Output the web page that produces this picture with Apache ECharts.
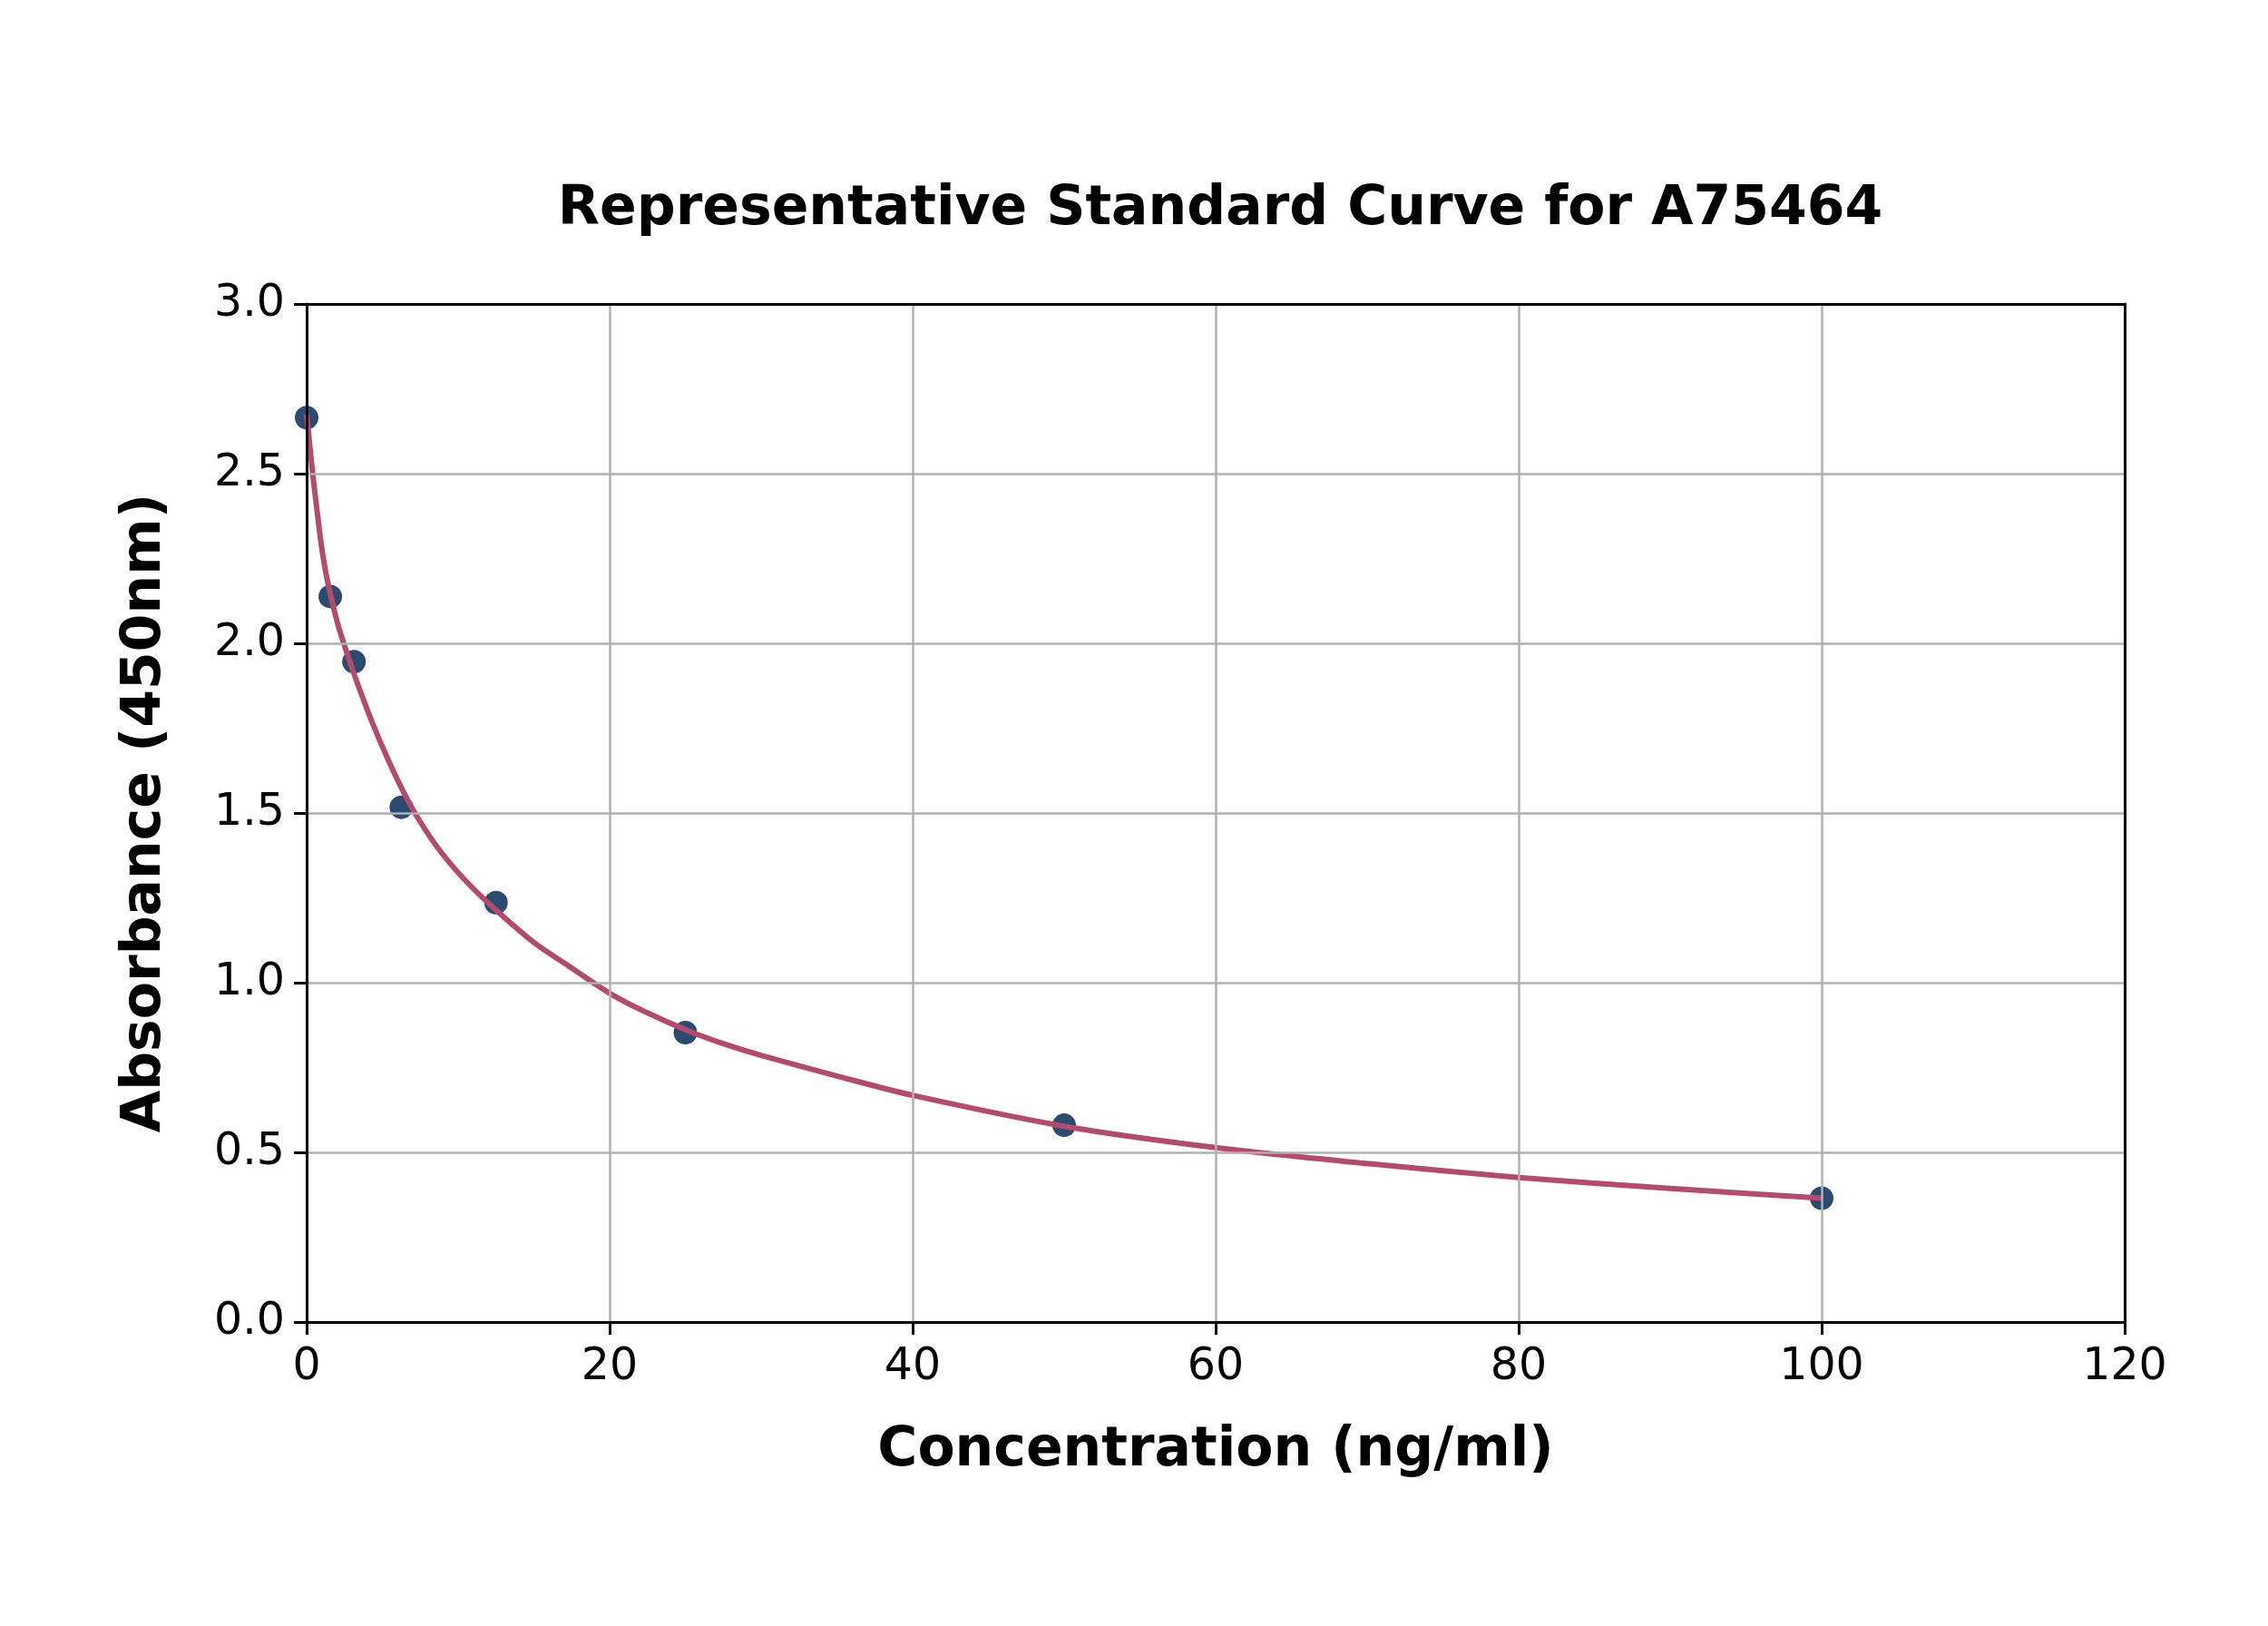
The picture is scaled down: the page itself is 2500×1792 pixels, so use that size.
<!DOCTYPE html>
<html>
<head>
<meta charset="utf-8">
<title>Representative Standard Curve for A75464</title>
<script src="https://cdn.jsdelivr.net/npm/echarts@6/dist/echarts.min.js"></script>
<style>
  html, body { margin: 0; padding: 0; background: #fff; }
  #myChart { width: 2500px; height: 1792px; }
</style>
</head>
<body>
<div id="myChart"></div>
<script>
// standard points (concentration ng/ml, absorbance 450nm)
const concentration = [0, 1.5625, 3.125, 6.25, 12.5, 25, 50, 100];
const absorbance = [2.665, 2.138, 1.946, 1.517, 1.236, 0.853, 0.58, 0.365];

// fitted curve at these x positions
const curveX = [0, 0.4, 0.7, 1.0, 1.3, 1.7, 2.1, 2.7, 3.2, 3.5, 4.3, 5.3, 6.3, 7.5, 8.9, 10.5, 12.3, 15.1, 17.3, 20, 22.3, 25.25, 27.85, 30, 35, 40, 50, 60, 70, 80, 90, 100];
const curveY = [2.675, 2.5, 2.386, 2.28, 2.2, 2.12, 2.05, 1.966, 1.901, 1.864, 1.77, 1.665, 1.57, 1.474, 1.383, 1.3, 1.222, 1.115, 1.049, 0.969, 0.915, 0.857, 0.815, 0.786, 0.725, 0.668, 0.577, 0.514, 0.467, 0.426, 0.394, 0.365];

const xTicks = { min: 0, max: 120, interval: 20 };
const yTicks = { min: 0, max: 3, interval: 0.5 };

const fontFamily = "DejaVu Sans";
const dotColor = "#2b4c70";
const lineColor = "#b44a6e";

const pointData = concentration.map((c, i) => [c, absorbance[i]]);
const curveData = curveX.map((c, i) => [c, curveY[i]]);

const labelFont = { fontFamily: fontFamily, fontWeight: "bold", fontSize: 60, color: "#000" };
const blackLine = { color: "#000", width: 3 };

const myChart = echarts.init(document.getElementById("myChart"), null, { renderer: "canvas" });

myChart.setOption({
  backgroundColor: "#ffffff",
  animation: false,
  title: {
    text: "Representative Standard Curve for A75464",
    left: 1340,
    top: 196,
    textAlign: "center",
    textStyle: labelFont,
  },
  grid: {
    left: 338,
    right: 158,
    top: 335,
    bottom: 335,
  },
  xAxis: [
    {
      type: "value",
      min: xTicks.min,
      max: xTicks.max,
      interval: xTicks.interval,
      name: "Concentration (ng/ml)",
      nameLocation: "middle",
      nameGap: 112,
      nameTextStyle: labelFont,
      axisLine: { show: true, lineStyle: blackLine },
      axisTick: { show: true, inside: false, length: 14, lineStyle: blackLine },
      axisLabel: { margin: 26, fontFamily: fontFamily, fontSize: 49, color: "#000" },
      splitLine: { show: true, lineStyle: { color: "#b0b0b0", width: 2.5 } },
      z: 5,
    },
    {
      // top frame line
      type: "value",
      position: "top",
      min: xTicks.min,
      max: xTicks.max,
      interval: xTicks.interval,
      axisLine: { show: true, onZero: false, lineStyle: blackLine },
      axisTick: { show: false },
      axisLabel: { show: false },
      splitLine: { show: false },
      z: 5,
    },
  ],
  yAxis: [
    {
      type: "value",
      min: yTicks.min,
      max: yTicks.max,
      interval: yTicks.interval,
      name: "Absorbance (450nm)",
      nameLocation: "middle",
      nameGap: 148,
      nameTextStyle: labelFont,
      axisLine: { show: true, lineStyle: blackLine },
      axisTick: { show: true, inside: false, length: 14, lineStyle: blackLine },
      axisLabel: {
        margin: 24,
        fontFamily: fontFamily,
        fontSize: 49,
        color: "#000",
        formatter: (v) => v.toFixed(1),
      },
      splitLine: { show: true, lineStyle: { color: "#b0b0b0", width: 2.5 } },
      z: 5,
    },
    {
      // right frame line
      type: "value",
      position: "right",
      min: yTicks.min,
      max: yTicks.max,
      interval: yTicks.interval,
      axisLine: { show: true, onZero: false, lineStyle: blackLine },
      axisTick: { show: false },
      axisLabel: { show: false },
      splitLine: { show: false },
      z: 5,
    },
  ],
  series: [
    {
      name: "standards",
      type: "scatter",
      data: pointData,
      symbol: "circle",
      symbolSize: 26,
      itemStyle: { color: dotColor, opacity: 1 },
      z: 2,
    },
    {
      name: "fit",
      type: "line",
      data: curveData,
      smooth: 0.3,
      showSymbol: false,
      lineStyle: { color: lineColor, width: 6 },
      z: 3,
    },
  ],
});
</script>
</body>
</html>
